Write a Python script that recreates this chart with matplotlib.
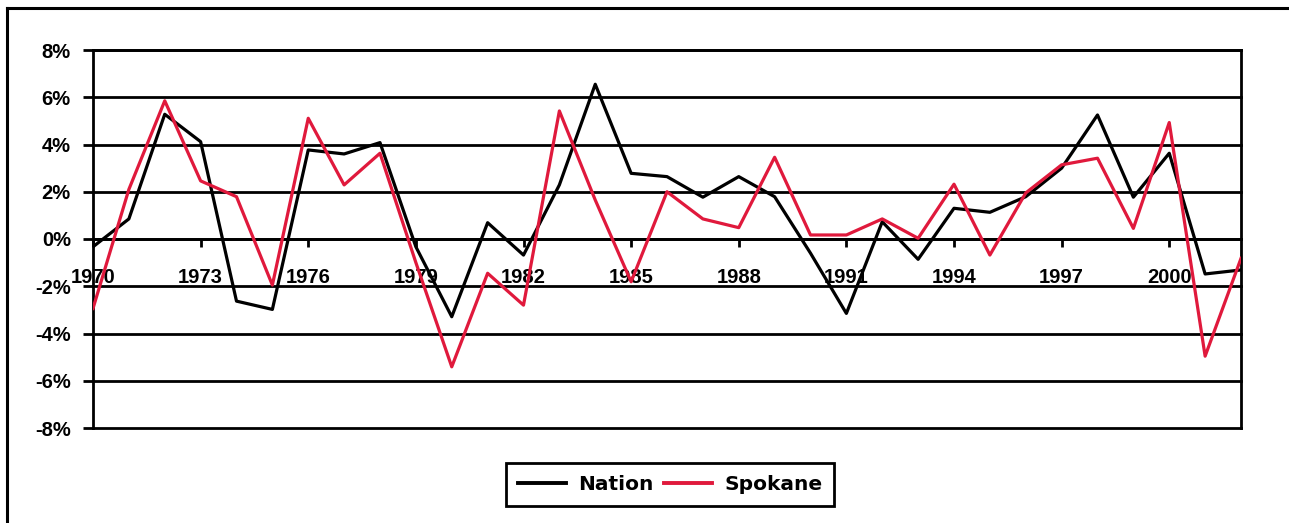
import matplotlib
matplotlib.use("Agg")
import matplotlib.pyplot as plt
from matplotlib.lines import Line2D
from matplotlib.ticker import FuncFormatter
from matplotlib.font_manager import FontProperties

years = list(range(1970, 2003))
nation = [-0.33, 0.85, 5.28, 4.12, -2.63, -2.98, 3.77, 3.60, 4.08, -0.33,
          -3.29, 0.69, -0.68, 2.29, 6.55, 2.78, 2.64, 1.77, 2.64, 1.79,
          -0.60, -3.15, 0.73, -0.86, 1.30, 1.13, 1.79, 3.00, 5.25, 1.77,
          3.63, -1.48, -1.31]
spokane = [-2.94, 2.10, 5.85, 2.46, 1.79, -1.95, 5.11, 2.29, 3.63, -1.00,
           -5.41, -1.45, -2.80, 5.42, 1.65, -1.81, 2.00, 0.85, 0.48, 3.46,
           0.17, 0.17, 0.85, 0.03, 2.32, -0.68, 1.95, 3.14, 3.42, 0.45,
           4.93, -4.96, -0.82]
xtick_years = list(range(1970, 2001, 3))
yticks = list(range(-8, 9, 2))

W, H = 1289, 523
fig = plt.figure(figsize=(W / 100, H / 100), dpi=100)
fig.patch.set_facecolor("white")

ax = fig.add_axes([93 / W, 1 - 428 / H, (1241 - 93) / W, (428 - 50) / H])
ax.set_xlim(1970, 2002)
ax.set_ylim(-8, 8)

for y in yticks:
    ax.axhline(y, color="black", lw=2.0, zorder=1, clip_on=False)

ax.plot(years, nation, color="black", lw=2.3, zorder=3, label="Nation")
ax.plot(years, spokane, color="#E0193C", lw=2.3, zorder=4, label="Spokane")

for s in ["left", "right", "top"]:
    ax.spines[s].set_linewidth(2.0)
    ax.spines[s].set_color("black")
ax.spines["bottom"].set_position(("data", 0))
ax.spines["bottom"].set_linewidth(2.0)

ax.set_yticks(yticks)
ax.yaxis.set_major_formatter(FuncFormatter(lambda v, p: f"{int(v)}%"))
ax.set_xticks(xtick_years)
ax.set_xticklabels([str(y) for y in xtick_years])

fp = FontProperties(family="Liberation Sans", weight="bold", size=14.5)
for t in ax.get_yticklabels() + ax.get_xticklabels():
    t.set_fontproperties(fp)
ax.tick_params(axis="y", direction="out", length=7, width=2, pad=9)
ax.tick_params(axis="x", direction="out", length=6, width=2, pad=15)

leg = fig.legend(loc="center", bbox_to_anchor=(670 / W, 1 - 484.5 / H), ncol=2,
                 frameon=True, fancybox=False, framealpha=1.0,
                 handlelength=2.4, handletextpad=0.6,
                 columnspacing=0.5, borderpad=0.6,
                 prop=dict(family="DejaVu Sans", weight="bold", size=14.5))
leg.get_frame().set_edgecolor("black")
leg.get_frame().set_linewidth(2.0)
for h in leg.get_lines():
    h.set_linewidth(2.8)

# outer frame (top and left edges)
fig.add_artist(Line2D([7 / W, 7 / W], [0, 1 - 8 / H], transform=fig.transFigure,
                      color="black", lw=2.2))
fig.add_artist(Line2D([7 / W, 1], [1 - 8 / H, 1 - 8 / H], transform=fig.transFigure,
                      color="black", lw=2.2))

fig.savefig("out.png", dpi=100, facecolor="white")
